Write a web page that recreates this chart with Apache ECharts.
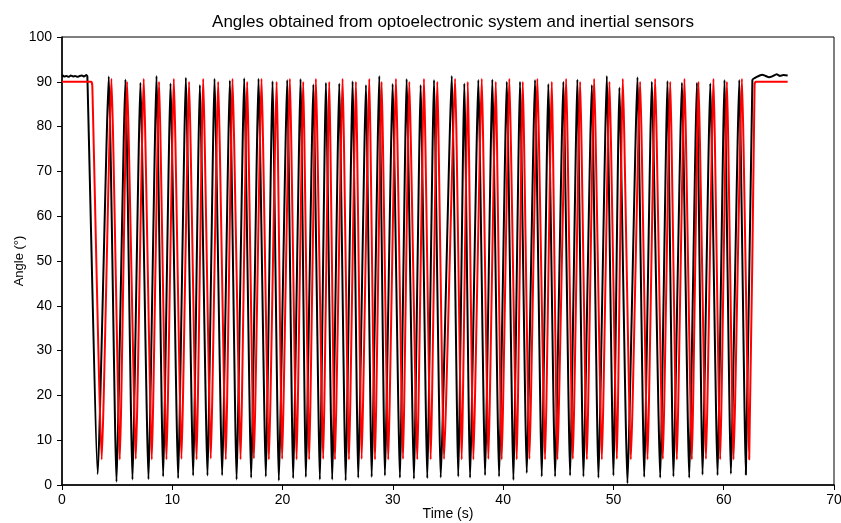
<!DOCTYPE html>
<html>
<head>
<meta charset="utf-8">
<script src="https://cdn.jsdelivr.net/npm/echarts@6/dist/echarts.min.js"></script>
<style>
  html, body { margin: 0; padding: 0; background: #fff; }
  #chart { width: 841px; height: 523px; }
</style>
</head>
<body>
<div id="chart"></div>
<script>
// optoelectronic (black) - flat part before and after the movement
var blackStartT = [0, 0.2, 0.4, 0.6, 0.8, 1.0, 1.2, 1.4, 1.6, 1.8, 2.0, 2.2, 2.3];
var blackStartV = [91.5, 91.2, 91.3, 91.1, 91.4, 91.2, 91.3, 91.1, 91.3, 91.4, 91.2, 91.5, 91.2];
var blackEndT = [62.6, 63.0, 63.5, 63.8, 64.1, 64.4, 64.8, 65.1, 65.4, 65.8];
var blackEndV = [90.4, 91.1, 91.6, 91.3, 91.0, 91.2, 91.7, 91.3, 91.5, 91.4];

// black troughs / peaks
var blackTroughT = [3.24, 4.94, 6.39, 7.84, 9.17, 10.53, 11.89, 13.19, 14.52, 15.83, 17.15,
  18.48, 19.66, 20.96, 22.11, 23.38, 24.50, 25.72, 26.86, 28.08, 29.28, 30.64, 31.91,
  33.12, 34.34, 35.93, 37.00, 38.36, 39.63, 40.93, 42.14, 43.50, 44.71, 46.07, 47.28,
  48.64, 50.00, 51.27, 52.79, 54.24, 55.44, 56.87, 58.08, 59.44, 60.65, 62.01];
var blackTroughV = [2.4, 0.7, 1.2, 1.3, 1.9, 1.5, 2.1, 2.1, 2.2, 1.2, 1.6,
  1.9, 1.0, 1.5, 1.8, 1.2, 1.2, 1.0, 1.6, 1.8, 2.1, 1.6, 1.4,
  1.5, 1.7, 1.9, 1.6, 2.2, 1.9, 1.1, 2.7, 1.9, 1.9, 2.1, 1.9,
  1.6, 2.1, 0.4, 1.8, 1.6, 1.9, 1.6, 2.3, 2.2, 2.5, 2.3];
var blackPeakT = [4.24, 5.75, 7.11, 8.57, 9.84, 11.23, 12.50, 13.83, 15.22, 16.52, 17.82,
  19.09, 20.42, 21.63, 22.79, 23.93, 25.14, 26.35, 27.56, 28.77, 29.98, 31.25, 32.52,
  33.73, 35.34, 36.48, 37.75, 39.02, 40.33, 41.53, 42.89, 44.10, 45.46, 46.73, 48.04,
  49.40, 50.54, 52.18, 53.48, 54.90, 56.21, 57.57, 58.78, 60.07, 61.41];
var blackPeakV = [91.2, 90.5, 89.8, 91.3, 89.6, 90.9, 89.3, 90.7, 90.3, 90.8, 90.7,
  90.1, 90.4, 90.6, 89.4, 89.8, 89.6, 90.1, 89.3, 91.3, 89.5, 90.6, 89.3,
  90.4, 91.3, 89.6, 90.4, 90.5, 90.0, 90.0, 90.4, 89.5, 90.0, 90.5, 89.3,
  91.3, 88.7, 91.0, 90.0, 90.2, 89.8, 89.8, 89.6, 90.4, 90.4];

// inertial sensors (red)
var redStartT = [0, 2.65, 2.75];
var redStartV = [90, 90, 89];
var redEndT = [62.8, 62.9, 65.8];
var redEndV = [89.5, 90, 90];
var redTroughT = [3.60, 5.24, 6.69, 8.14, 9.47, 10.83, 12.20, 13.49, 14.85, 16.19, 17.40,
  18.76, 19.96, 21.27, 22.41, 23.68, 24.75, 26.02, 27.17, 28.38, 29.58, 30.92, 32.21,
  33.43, 34.64, 36.24, 37.30, 38.66, 39.87, 41.23, 42.38, 43.80, 44.92, 46.32, 47.59,
  48.95, 50.31, 51.58, 53.09, 54.48, 55.75, 57.11, 58.39, 59.68, 60.89, 62.31];
var redTroughV = [5.7, 5.7, 5.8, 5.7, 5.7, 5.8, 5.7, 5.9, 5.7, 5.7, 5.9,
  5.7, 5.8, 5.7, 5.7, 5.8, 5.7, 5.7, 5.8, 5.7, 5.7, 5.8, 5.7,
  5.7, 5.8, 5.7, 5.7, 5.8, 5.7, 5.7, 5.8, 5.7, 5.7, 5.8, 5.7,
  5.7, 5.8, 5.7, 5.7, 5.8, 5.7, 5.7, 5.8, 5.7, 5.7, 5.7];
var redPeakT = [4.48, 5.90, 7.41, 8.80, 10.14, 11.52, 12.80, 14.16, 15.46, 16.79, 18.09,
  19.46, 20.66, 21.87, 23.02, 24.23, 25.44, 26.65, 27.86, 28.98, 30.28, 31.49, 32.82,
  34.03, 35.64, 36.79, 38.06, 39.33, 40.56, 41.78, 43.10, 44.41, 45.71, 46.98, 48.25,
  49.64, 50.85, 52.42, 53.78, 55.15, 56.44, 57.71, 59.07, 60.29, 61.65];
var redPeakV = [90.7, 90.0, 90.7, 90.0, 90.7, 90.0, 90.7, 90.0, 90.7, 90.0, 90.7,
  90.0, 90.7, 90.0, 90.7, 90.0, 90.7, 90.0, 90.7, 90.0, 90.7, 90.0, 90.7,
  90.0, 90.7, 90.0, 90.7, 90.0, 90.7, 90.0, 90.7, 90.0, 90.7, 90.0, 90.7,
  90.0, 90.7, 90.0, 90.7, 90.0, 90.7, 90.0, 90.7, 90.0, 90.7];

function buildSeries(startT, startV, troughT, troughV, peakT, peakV, endT, endV) {
    var pts = [];
    startT.forEach(function (t, i) { pts.push([t, startV[i]]); });
    troughT.forEach(function (t, i) {
        pts.push([t, troughV[i]]);
        if (i < peakT.length) pts.push([peakT[i], peakV[i]]);
    });
    endT.forEach(function (t, i) { pts.push([t, endV[i]]); });
    return pts;
}

var blackData = buildSeries(blackStartT, blackStartV, blackTroughT, blackTroughV, blackPeakT, blackPeakV, blackEndT, blackEndV);
var redData = buildSeries(redStartT, redStartV, redTroughT, redTroughV, redPeakT, redPeakV, redEndT, redEndV);

var font = 'Liberation Sans, Arial, Helvetica, sans-serif';
var myChart = echarts.init(document.getElementById('chart'));

myChart.setOption({
    animation: false,
    backgroundColor: '#fff',
    title: {
        text: 'Angles obtained from optoelectronic system and inertial sensors',
        left: 448,
        textAlign: 'center',
        top: 9,
        textStyle: { fontFamily: font, fontSize: 17, fontWeight: 'normal', color: '#000' }
    },
    grid: {
        left: 62, right: 7, top: 37, bottom: 38,
        outerBoundsMode: 'none',
        containLabel: false,
        show: true, borderColor: '#000', borderWidth: 1
    },
    xAxis: {
        type: 'value',
        min: 0, max: 70, interval: 10,
        name: 'Time (s)',
        nameLocation: 'middle',
        nameGap: 22,
        nameMoveOverlap: false,
        nameTextStyle: { fontFamily: font, fontSize: 14, color: '#000' },
        axisLine: { lineStyle: { color: '#000', width: 1.5 } },
        axisTick: { inside: false, length: 5, lineStyle: { color: '#000' } },
        axisLabel: { fontFamily: font, fontSize: 14, color: '#000', margin: 8 },
        splitLine: { show: false }
    },
    yAxis: {
        type: 'value',
        min: 0, max: 100, interval: 10,
        name: 'Angle (°)',
        nameLocation: 'middle',
        nameRotate: 90,
        nameGap: 36,
        nameMoveOverlap: false,
        nameTextStyle: { fontFamily: font, fontSize: 13, color: '#000' },
        axisLine: { show: true, lineStyle: { color: '#000', width: 1.5 } },
        axisTick: { show: true, inside: false, length: 5, lineStyle: { color: '#000' } },
        axisLabel: { fontFamily: font, fontSize: 14, color: '#000', margin: 10 },
        splitLine: { show: false }
    },
    series: [{
        name: 'Optoelectronic',
        type: 'line',
        showSymbol: false,
        smooth: 0.15,
        data: blackData,
        lineStyle: { color: '#000', width: 2 },
        itemStyle: { color: '#000' }
    }, {
        name: 'Inertial',
        type: 'line',
        showSymbol: false,
        smooth: 0.15,
        data: redData,
        lineStyle: { color: '#ff0000', width: 2 },
        itemStyle: { color: '#ff0000' }
    }]
});
</script>
</body>
</html>
